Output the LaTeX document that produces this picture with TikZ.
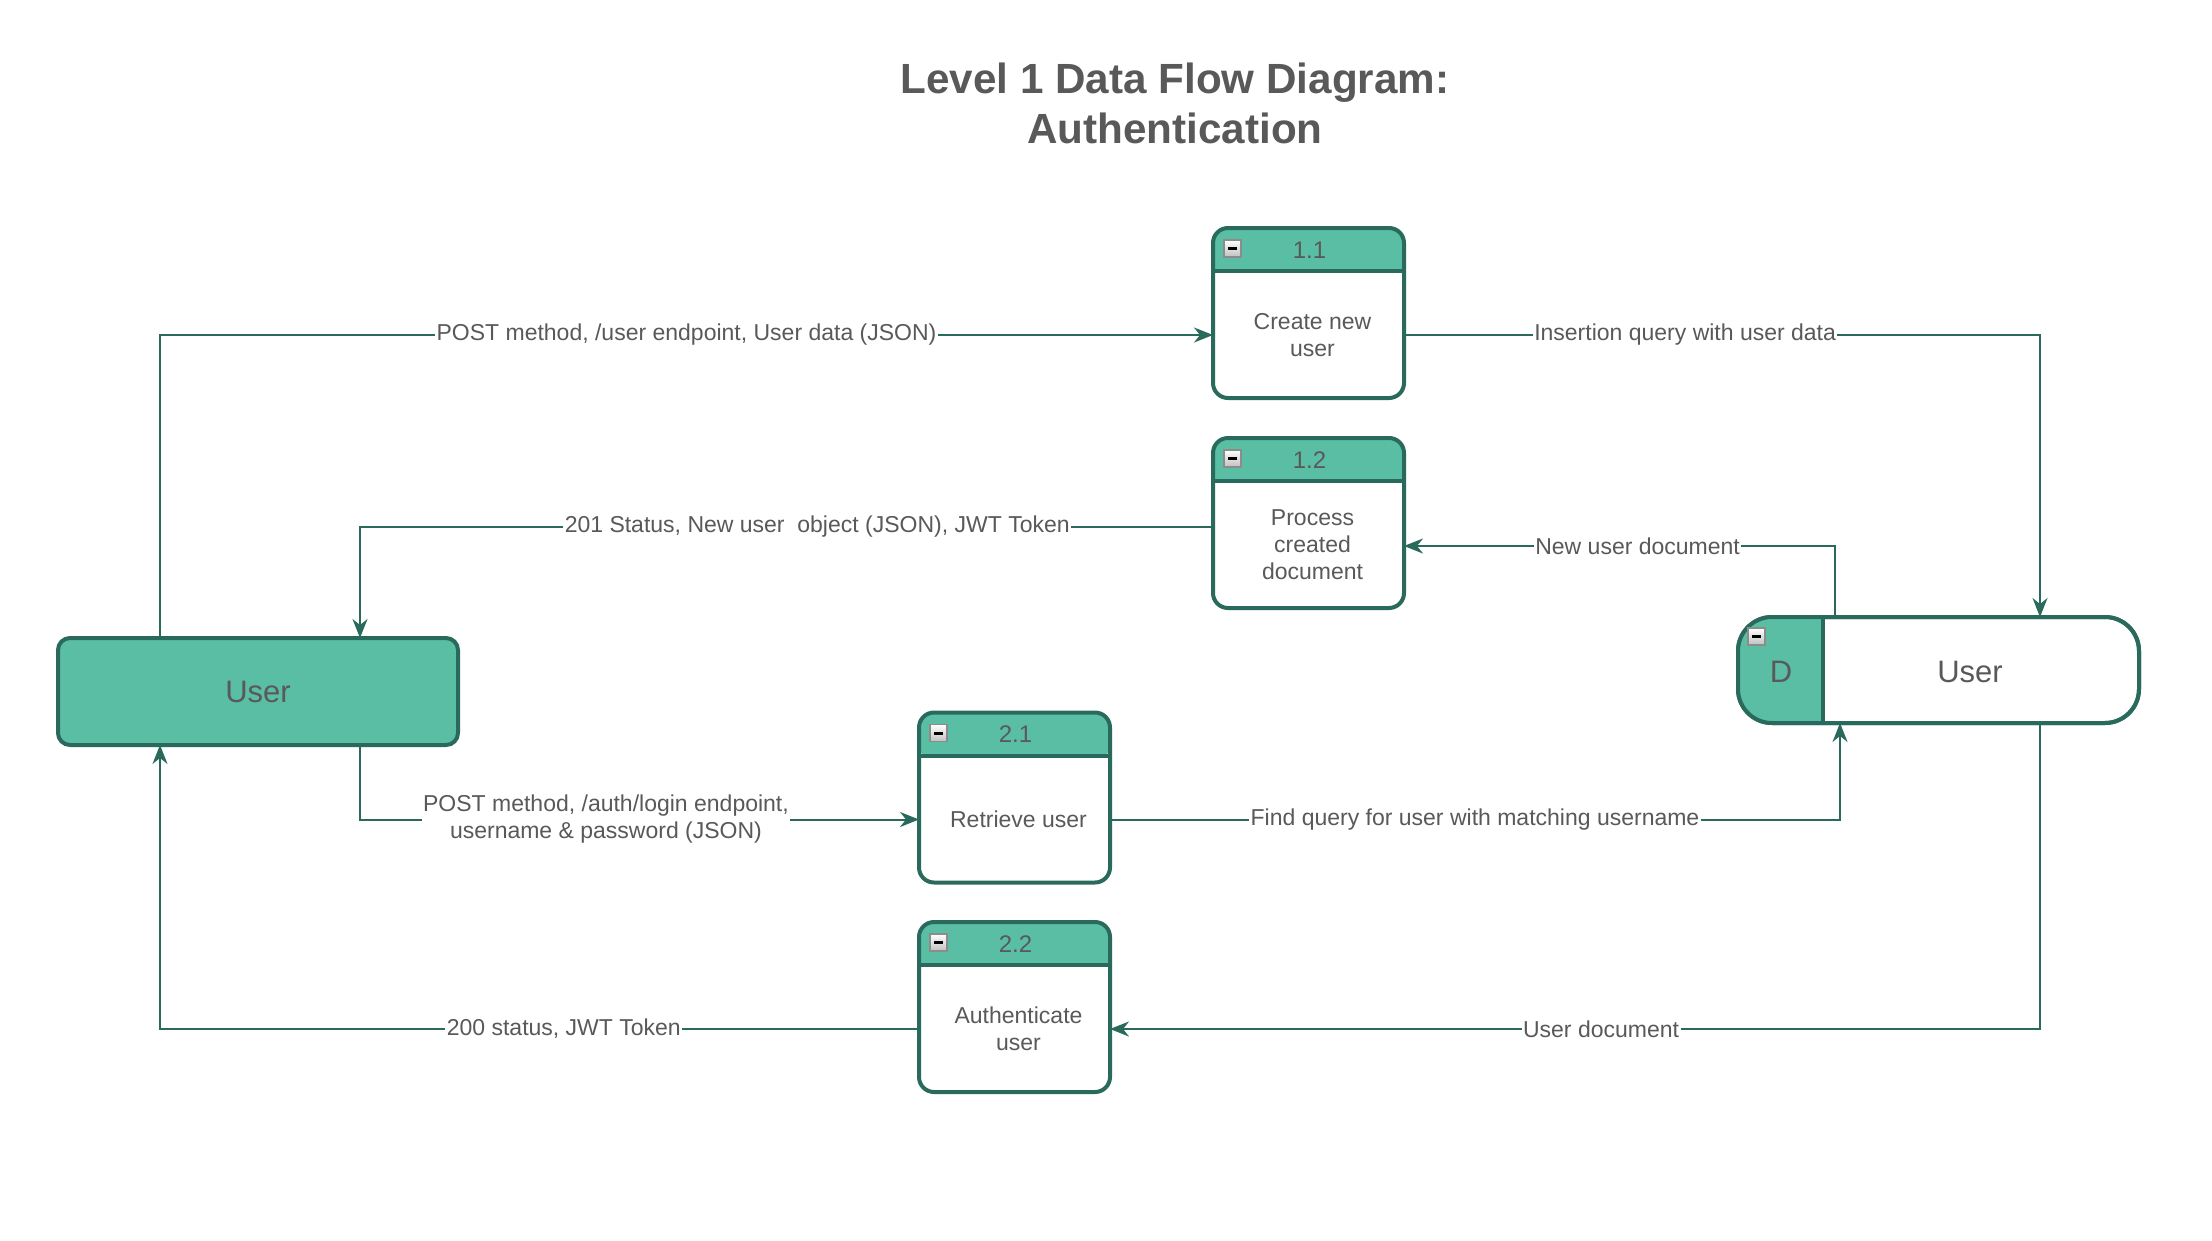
\documentclass[tikz,border=0pt]{standalone}
\usepackage{fontspec}
\setmainfont{Liberation Sans}
\usetikzlibrary{arrows.meta,calc}
\definecolor{dfdgreen}{HTML}{5ABEA5}
\definecolor{dfdline}{HTML}{296A5C}
\definecolor{dfdtext}{HTML}{595959}
\tikzset{
  proc/.style={draw=dfdline, line width=4pt, fill=white, rounded corners=15pt,
    minimum width=191pt, minimum height=170pt, inner sep=0pt, outer sep=0pt,
    path picture={\fill[dfdgreen] ([shift={(-5,-5)}]path picture bounding box.north west) rectangle ([shift={(5,43)}]path picture bounding box.north east);}},
  ext/.style={draw=dfdline, line width=4pt, fill=dfdgreen, rounded corners=12pt,
    minimum width=400pt, minimum height=107pt, inner sep=0pt, outer sep=0pt,
    text=dfdtext, font=\fontsize{31}{36}\selectfont},
  store/.style={draw=dfdline, line width=4pt, fill=white, rounded corners=34pt,
    minimum width=401pt, minimum height=106pt, inner sep=0pt, outer sep=0pt},
  hdrtxt/.style={text=dfdtext, font=\fontsize{24}{28}\selectfont, inner sep=0pt},
  bodytxt/.style={text=dfdtext, font=\fontsize{23}{27}\selectfont, align=center, inner sep=0pt},
  bigtxt/.style={text=dfdtext, font=\fontsize{31}{36}\selectfont, inner sep=0pt},
  hdrline/.style={draw=dfdline, line width=4pt},
  flow/.style={draw=dfdline, line width=2pt, -{Stealth[length=19pt,width=15pt,inset=6pt]}},
  lbl/.style={fill=white, text=dfdtext, font=\fontsize{23}{27}\selectfont, inner sep=1.5pt, align=center},
}
\newcommand{\dfdminus}[1]{%
  \shade[top color=white, bottom color=gray!50, draw=gray!90, line width=1.2pt] (#1) rectangle ++(17,17);
  \fill[black] ($(#1)+(4,7.3)$) rectangle ++(9,2.8);}
\begin{document}
\begin{tikzpicture}[x=1pt,y=-1pt]
\fill[white] (0,0) rectangle (2212,1240);
\useasboundingbox (0,0) rectangle (2212,1240);

% title
\node[text=dfdtext, font=\bfseries\fontsize{42.2}{50}\selectfont, align=center] (title) at (1175,103) {Level 1 Data Flow Diagram:\\Authentication};

% external entity
\node[ext] (L) at (258,691.5) {User};

% data store
\node[store] (ds) at (1938.5,670) {};
\begin{scope}
  \clip[rounded corners=34pt] (ds.north west) rectangle (ds.south east);
  \fill[dfdgreen] ([shift={(-5,-5)}]ds.north west) rectangle ([shift={(87,5)}]ds.south west);
\end{scope}
\draw[draw=dfdline, line width=4pt, rounded corners=34pt] (ds.north west) rectangle (ds.south east);
\draw[hdrline] ([xshift=85pt]ds.north west) -- ([xshift=85pt]ds.south west);
\node[bigtxt] (dsD) at (1781,672) {D};
\node[bigtxt] (dsU) at (1970,672) {User};
\path ([shift={(10,11)}]ds.north west) coordinate (mds);
\dfdminus{mds}

% processes
\foreach \nm/\cx/\cy/\num in {p11/1308.5/313/1.1, p12/1308.5/523/1.2, p21/1014.5/797.5/2.1, p22/1014.5/1007/2.2}{
  \node[proc] (\nm) at (\cx,\cy) {};
  \draw[hdrline] ([yshift=-43pt]\nm.north west) -- ([yshift=-43pt]\nm.north east);
  \node[hdrtxt] (\nm h) at ([shift={(1,22)}]\nm.north) {\num};
  \path ([shift={(11,12)}]\nm.north west) coordinate (\nm m);
  \dfdminus{\nm m}
}
\node[bodytxt] (p11t) at ([shift={(4,107)}]p11.north) {Create new\\user};
\node[bodytxt] (p12t) at ([shift={(4,107)}]p12.north) {Process\\created\\document};
\node[bodytxt] (p21t) at ([shift={(4,107)}]p21.north) {Retrieve user};
\node[bodytxt] (p22t) at ([shift={(4,107)}]p22.north) {Authenticate\\user};

% flows
\draw[flow] ([xshift=102pt]L.north west) |- (p11.west |- p11t)
  node[lbl, pos=0.75] (f1) {POST method, /user endpoint, User data (JSON)};
\draw[flow] (p11.east |- p11t) -| ([xshift=302pt]ds.north west)
  node[lbl, pos=0.221] (f2) {Insertion query with user data};
\draw[flow] ([yshift=-4pt]p12.west) -| ([xshift=302pt]L.north west)
  node[lbl, pos=0.232] (f3) {201 Status, New user~ object (JSON), JWT Token};
\draw[flow] ([xshift=97pt]ds.north west) |- ([yshift=-23pt]p12.east)
  node[lbl, pos=0.729] (f4) {New user document};
\draw[flow] ([xshift=302pt]L.south west) |- (p21.west |- p21t)
  node[lbl, pos=0.72] (f5) {POST method, /auth/login endpoint,\\username \& password (JSON)};
\draw[flow] (p21.east |- p21t) -| ([xshift=102pt]ds.south west)
  node[lbl, pos=0.25] (f6) {Find query for user with matching username};
\draw[flow] ([xshift=302pt]ds.south west) |- (p22.east |- p22t)
  node[lbl, pos=0.736] (f7) {User document};
\draw[flow] (p22.west |- p22t) -| ([xshift=102pt]L.south west)
  node[lbl, pos=0.234] (f8) {200 status, JWT Token};
\end{tikzpicture}
\end{document}
